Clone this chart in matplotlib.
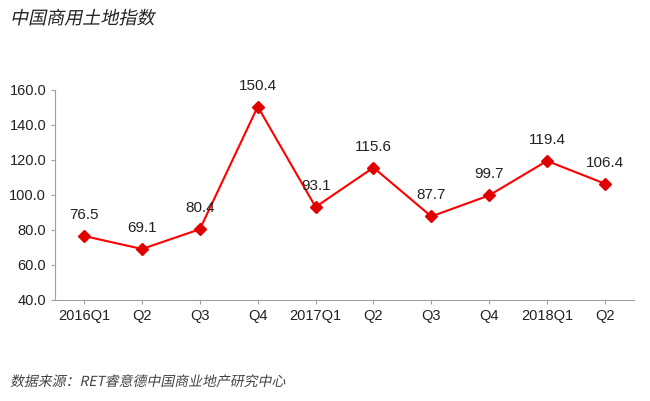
import matplotlib
matplotlib.use("Agg")
import matplotlib.pyplot as plt
from matplotlib.textpath import TextPath
from matplotlib.patches import PathPatch
from matplotlib.font_manager import FontProperties
from matplotlib.transforms import Affine2D

plt.rcParams['font.family'] = ['Liberation Sans', 'Noto Sans CJK SC', 'DejaVu Sans']

quarters = ["2016Q1", "Q2", "Q3", "Q4", "2017Q1", "Q2", "Q3", "Q4", "2018Q1", "Q2"]
index_vals = [76.5, 69.1, 80.4, 150.4, 93.1, 115.6, 87.7, 99.7, 119.4, 106.4]

fig = plt.figure(figsize=(6.5, 4.01), dpi=100)
ax = fig.add_axes([0.085, 0.252, 0.89, 0.524])
x = list(range(len(quarters)))
ax.plot(x, index_vals, color="#ff0000", lw=1.5, marker="D", ms=6, mfc="#e00000", mec="#e00000")
for xi, v in zip(x, index_vals):
    ax.text(xi, v + 8, f"{v:.1f}", ha="center", va="bottom", fontsize=11, color="#222222")

ax.set_xlim(-0.5, len(quarters) - 0.5)
ax.set_ylim(40, 160)
ax.set_yticks(range(40, 161, 20))
ax.set_yticklabels([f"{t:.1f}" for t in range(40, 161, 20)], fontsize=10.5)
ax.set_xticks(x)
ax.set_xticklabels(quarters, fontsize=10.5)
for s in ["top", "right"]:
    ax.spines[s].set_visible(False)
for s in ["left", "bottom"]:
    ax.spines[s].set_color("#a0a0a0")
ax.tick_params(axis="both", length=3, color="#a0a0a0", colors="#222222")


def slanted(text, x_px, y_px, size_pt, color):
    # CJK font has no italic face, so shear the glyph outlines
    fp = FontProperties(family="Noto Sans CJK SC")
    size_px = size_pt * fig.dpi / 72
    tp = TextPath((0, 0), text, size=size_px, prop=fp)
    tr = Affine2D().skew_deg(12, 0).translate(x_px, fig.bbox.height - y_px)
    fig.patches.append(PathPatch(tr.transform_path(tp), fc=color, ec="none",
                                 transform=None, figure=fig))


slanted("中国商用土地指数", 10, 24, 13, "#222222")
slanted("数据来源：RET睿意德中国商业地产研究中心", 10, 386, 10, "#444444")

fig.savefig("out.png", dpi=100)
